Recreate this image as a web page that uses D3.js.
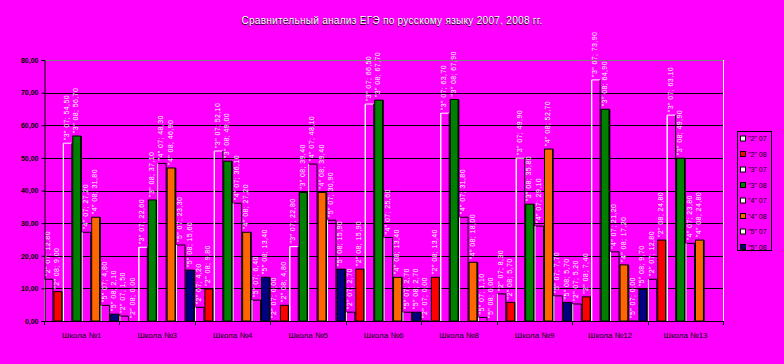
<!DOCTYPE html>
<html>
<head>
<meta charset="utf-8">
<script src="https://cdn.jsdelivr.net/npm/d3@7"></script>
<style>
  body { margin: 0; background: #ff00ff; }
  svg { display: block; font-family: "Liberation Sans", Arial, sans-serif; }
</style>
</head>
<body>
<div class="chart"></div>
<script>
const schools = ["Школа №1", "Школа №3", "Школа №4", "Школа №5", "Школа №6", "Школа №8", "Школа №9", "Школа №12", "Школа №13"];
const seriesNames = ['"2" 07', '"2" 08', '"3" 07', '"3" 08', '"4" 07', '"4" 08', '"5" 07', '"5" 08'];
const two07 = [12.8, 1.5, 4.2, 0, 2.7, 0, 8.3, 5.2, 12.8];
const two08 = [9.0, 0, 9.8, 4.8, 15.9, 13.4, 5.7, 7.4, 24.8];
const three07 = [54.5, 22.6, 52.1, 22.8, 66.5, 63.7, 49.9, 73.9, 63.1];
const three08 = [56.7, 37.1, 49.0, 39.4, 67.7, 67.9, 35.8, 64.9, 49.9];
const four07 = [27.2, 48.3, 36.1, 48.1, 25.6, 31.8, 29.1, 21.2, 23.8];
const four08 = [31.8, 46.9, 27.2, 39.4, 13.4, 18.0, 52.7, 17.2, 24.8];
const five07 = [4.8, 23.3, 6.4, 30.9, 2.7, 1.1, 7.7, 0, null];
const five08 = [2.1, 15.6, 13.4, 15.9, 2.7, 0, 5.7, 9.7, null];
const yTicks = [0, 10, 20, 30, 40, 50, 60, 70, 80];

const seriesValues = [two07, two08, three07, three08, four07, four08, five07, five08];
const fills = ["none", "#ff0000", "none", "#008000", "none", "#ff6600", "none", "#000080"];

const W = 784, H = 364;
const fmt = v => d3.format(".2f")(v).replace(".", ",");

const svg = d3.select(".chart").append("svg").attr("width", W).attr("height", H);
svg.append("rect").attr("width", W).attr("height", H).attr("fill", "#ff00ff");

const x0 = d3.scaleBand().domain(schools).range([44, 723.3]).padding(0);
const x1 = d3.scaleBand().domain(d3.range(8)).range([0, x0.bandwidth()]).padding(0);
const y = d3.scaleLinear().domain([0, 80]).range([321, 60]);

// title, white with dark shadow
const title = "Сравнительный анализ ЕГЭ по русскому языку 2007, 2008 гг.";
svg.append("text").attr("x", 391.5).attr("y", 24.5).attr("text-anchor", "middle")
  .attr("font-size", 10).attr("letter-spacing", 0.3).attr("fill", "#000").text(title);
svg.append("text").attr("x", 392).attr("y", 24).attr("text-anchor", "middle")
  .attr("font-size", 10).attr("letter-spacing", 0.3).attr("fill", "#fff").text(title);

// gridlines
svg.append("g").selectAll("line").data(yTicks.filter(d => d > 0 && d < 80)).join("line")
  .attr("x1", 44).attr("x2", 723.3)
  .attr("y1", d => Math.round(y(d)) + 0.5).attr("y2", d => Math.round(y(d)) + 0.5)
  .attr("stroke", "#000");
svg.append("line").attr("x1", 44).attr("x2", 723.3).attr("y1", 60.5).attr("y2", 60.5).attr("stroke", "#808080");
svg.append("line").attr("x1", 723.5).attr("x2", 723.5).attr("y1", 60).attr("y2", 321).attr("stroke", "#fff");

// bars
const groups = svg.append("g").selectAll("g").data(schools).join("g")
  .attr("transform", d => `translate(${x0(d)},0)`);

groups.each(function (school, si) {
  const g = d3.select(this);
  seriesValues.forEach((vals, k) => {
    const v = vals[si];
    if (v === null) return;
    const bx = x1(k), bw = x1.bandwidth();
    const top = y(v);
    if (fills[k] === "none") {
      g.append("path")
        .attr("d", `M${bx + 0.5},321V${top}H${bx + bw - 0.5}`)
        .attr("fill", "none").attr("stroke", k === 2 ? "#fff" : "#000");
      g.append("line").attr("x1", bx + 0.5).attr("x2", bx + 0.5).attr("y1", top).attr("y2", 321)
        .attr("stroke", "#fff");
      g.append("line").attr("x1", bx + bw - 0.5).attr("x2", bx + bw - 0.5).attr("y1", top).attr("y2", 321)
        .attr("stroke", "#000");
    } else if (v > 0) {
      g.append("rect")
        .attr("x", bx + 0.5).attr("y", top)
        .attr("width", bw - 1.5).attr("height", 321 - top)
        .attr("fill", fills[k]).attr("stroke", "#000").attr("stroke-width", 1);
      g.append("line").attr("x1", bx + bw - 0.5).attr("x2", bx + bw - 0.5).attr("y1", top).attr("y2", 321)
        .attr("stroke", "#000").attr("stroke-width", 1.5);
    }
  });
});

// data labels, rotated
groups.each(function (school, si) {
  const g = d3.select(this);
  seriesValues.forEach((vals, k) => {
    const v = vals[si];
    if (v === null) return;
    const lx = x1(k) + 6, ly = y(v) - 3;
    g.append("text")
      .attr("transform", `translate(${lx},${ly}) rotate(-90)`)
      .attr("font-size", 7).attr("letter-spacing", 0.4).attr("fill", "#fff")
      .text(`${seriesNames[k]}; ${fmt(v)}`);
  });
});

// axes
const yAxis = d3.axisLeft(y).tickValues(yTicks).tickSize(3).tickFormat(fmt);
svg.append("g").attr("transform", "translate(44.5,0)").call(yAxis)
  .call(g => g.select(".domain").attr("stroke", "#000"))
  .call(g => g.selectAll("text").attr("font-size", 7).attr("font-weight", "bold")
    .attr("fill", "#000").attr("font-family", "Liberation Sans, Arial, sans-serif").attr("x", -6));

svg.append("line").attr("x1", 44).attr("x2", 723.5).attr("y1", 321.5).attr("y2", 321.5).attr("stroke", "#000");
svg.append("g").selectAll("line").data(schools.concat(["end"])).join("line")
  .attr("x1", (d, i) => Math.round(44 + i * x0.bandwidth()) + 0.5)
  .attr("x2", (d, i) => Math.round(44 + i * x0.bandwidth()) + 0.5)
  .attr("y1", 321).attr("y2", 325).attr("stroke", "#000");

svg.append("g").selectAll("text").data(schools).join("text")
  .attr("x", d => x0(d) + x0.bandwidth() / 2).attr("y", 338)
  .attr("text-anchor", "middle").attr("font-size", 8).attr("fill", "#000")
  .text(d => d);

// legend
const lg = svg.append("g");
lg.append("rect").attr("x", 737.5).attr("y", 131.5).attr("width", 34).attr("height", 119)
  .attr("fill", "#ff00ff").attr("stroke", "#000");
seriesNames.forEach((name, k) => {
  const ly = 138.5 + k * 15.5;
  lg.append("rect").attr("x", 740.5).attr("y", ly - 2.5).attr("width", 5).attr("height", 5)
    .attr("fill", fills[k] === "none" ? "#fff" : fills[k]).attr("stroke", "#000");
  lg.append("text").attr("x", 748).attr("y", ly + 2.5).attr("font-size", 7).attr("fill", "#000").text(name);
});
</script>
</body>
</html>
